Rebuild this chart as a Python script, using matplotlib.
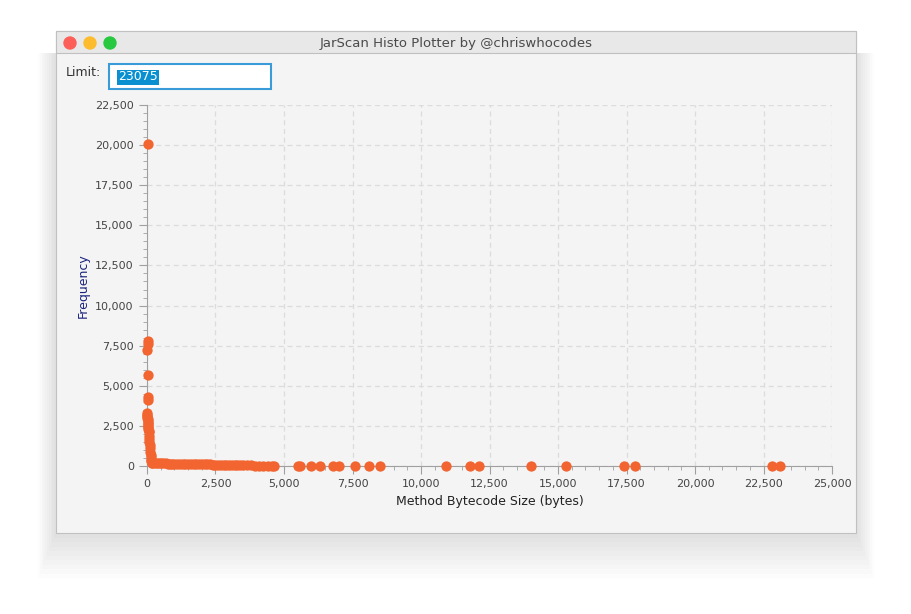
import matplotlib
matplotlib.use("Agg")
import matplotlib.pyplot as plt
from matplotlib.patches import Rectangle, Ellipse
from matplotlib.ticker import FuncFormatter, MultipleLocator

# data
sizes_high = [20, 25, 22, 18, 20, 24, 22]
freq_high = [20050, 7800, 7600, 7200, 5650, 4300, 4100]
sizes_stack = [10, 12, 15, 18, 20, 25, 30, 35, 40, 45, 50, 55, 60, 70, 80, 90, 100, 110, 120, 130, 140, 150, 160, 170]
freq_stack = [3300, 3200, 3100, 3000, 2900, 2800, 2700, 2600, 2500, 2400, 2300, 2200, 2100, 1900, 1700, 1500, 1300, 1100, 900, 700, 550, 400, 300, 200]
sizes_tail = [200, 280, 360, 440, 520, 600, 680, 760, 840, 920, 1000, 1100, 1200, 1300, 1400, 1500, 1600, 1700, 1800, 1900,
              2000, 2100, 2200, 2300, 2400, 2500, 2600, 2700, 2800, 2900, 3000, 3100, 3200, 3300, 3400, 3500]
freq_tail = [200, 190, 180, 175, 170, 165, 160, 155, 150, 145, 140, 135, 130, 125, 120, 120, 115, 110, 110, 105,
             100, 100, 95, 95, 90, 90, 85, 85, 80, 80, 75, 75, 70, 70, 65, 60]
sizes_sparse = [3650, 3800, 3950, 4100, 4250, 4400, 4550, 4650, 5500, 5600, 6000, 6300, 6800, 7000, 7600, 8100, 8500,
                10900, 11800, 12100, 14000, 15300, 17400, 17800, 22800, 23100]
freq_sparse = [40, 35, 30, 30, 25, 25, 20, 20, 10, 10, 10, 10, 5, 5, 5, 5, 5, 2, 2, 2, 2, 2, 1, 1, 1, 1]

W, H = 912, 614
fig = plt.figure(figsize=(W/100, H/100), dpi=100)
fig.patch.set_facecolor("white")

def fx(px): return px / W
def fy(py): return 1 - py / H

# soft shadow
for d in range(30, 0, -3):
    fig.patches.append(Rectangle((fx(56-d*0.6), fy(533+d*1.5)), (800+d*1.2)/W, (480+d*1.5)/H,
                                 transform=fig.transFigure, color="black", alpha=0.012, lw=0, zorder=0))
# window body
fig.patches.append(Rectangle((fx(56), fy(533)), 800/W, 502/H, transform=fig.transFigure,
                             facecolor="#f4f4f4", edgecolor="#c0c0c0", lw=0.8, zorder=1))
# title bar
fig.patches.append(Rectangle((fx(56), fy(53)), 800/W, 22/H, transform=fig.transFigure,
                             facecolor="#e8e8e8", edgecolor="#c0c0c0", lw=0.8, zorder=2))
for cx, c in [(70, "#fc5f57"), (90, "#fdbc2e"), (110, "#28c840")]:
    fig.patches.append(Ellipse((fx(cx), fy(43)), 12/W, 12/H, transform=fig.transFigure, color=c, zorder=3))
fig.text(fx(456), fy(43), "JarScan Histo Plotter by @chriswhocodes", ha="center", va="center",
         fontsize=9.5, color="#4a4a4a", zorder=4)
fig.text(fx(66), fy(72), "Limit:", ha="left", va="center", fontsize=9, color="#333333")
fig.patches.append(Rectangle((fx(109), fy(89)), 162/W, 25/H, transform=fig.transFigure,
                             facecolor="white", edgecolor="#3a9bd9", lw=1.5, zorder=3))
fig.text(fx(118), fy(77), "23075", ha="left", va="center", fontsize=9, color="white", zorder=5,
         bbox=dict(boxstyle="square,pad=0.08", fc="#0a8fd0", ec="none"))

ax = fig.add_axes([fx(147), fy(466), (832-147)/W, (466-105)/H])
ax.set_zorder(10)
ax.set_facecolor("#f4f4f4")
ax.set_xlim(0, 25000)
ax.set_ylim(0, 22500)
ax.xaxis.set_major_locator(MultipleLocator(2500))
ax.yaxis.set_major_locator(MultipleLocator(2500))
ax.xaxis.set_minor_locator(MultipleLocator(500))
ax.yaxis.set_minor_locator(MultipleLocator(500))
fmt = FuncFormatter(lambda v, p: f"{int(v):,}")
ax.xaxis.set_major_formatter(fmt)
ax.yaxis.set_major_formatter(fmt)
ax.grid(True, which="major", ls=(0, (4, 3)), color="#dcdcdc", lw=0.9)
for s in ["top", "right"]:
    ax.spines[s].set_visible(False)
for s in ["left", "bottom"]:
    ax.spines[s].set_color("#a0a0a0")
ax.tick_params(which="major", length=6, color="#a0a0a0", labelsize=8, labelcolor="#444444")
ax.tick_params(which="minor", length=3, color="#a0a0a0")
ax.set_axisbelow(True)

col = "#f26430"
for xs, ys in [(sizes_high, freq_high), (sizes_stack, freq_stack), (sizes_tail, freq_tail), (sizes_sparse, freq_sparse)]:
    ax.scatter(xs, ys, s=55, color=col, lw=0, zorder=3, clip_on=False)

ax.set_xlabel("Method Bytecode Size (bytes)", fontsize=9, color="#222222", labelpad=4)
ax.set_ylabel("Frequency", fontsize=9, color="#1a237e", labelpad=4)

fig.savefig("out.png", dpi=100)
